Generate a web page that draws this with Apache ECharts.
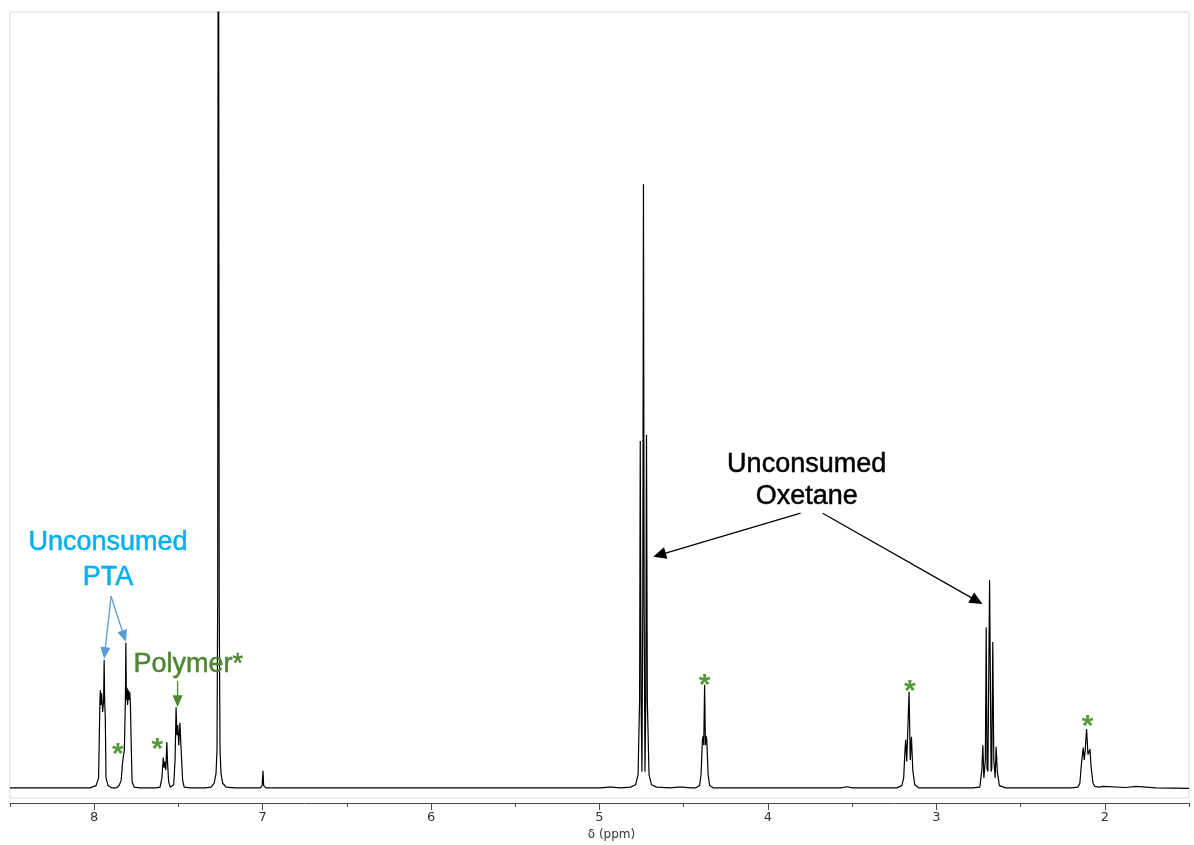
<!DOCTYPE html>
<html>
<head>
<meta charset="utf-8">
<script src="https://cdn.jsdelivr.net/npm/echarts@6/dist/echarts.min.js"></script>
<style>
  html, body { margin: 0; padding: 0; background: #ffffff; }
  #chart { width: 1194px; height: 845px; }
</style>
</head>
<body>
<div id="chart"></div>
<script>
// 1H NMR trace: [chemical shift (ppm), intensity (arbitrary units, baseline = 0)]

// Terephthalic acid doublets near 7.95 / 7.81 ppm
const ptaAromatic = [
  [8.5, 0], [8.025, 0], [7.989, 0.3], [7.974, 1.3], [7.966, 11.3], [7.963, 12.6],
  [7.960, 10.7], [7.956, 12.2], [7.950, 9.8], [7.944, 11.3], [7.941, 16.5],
  [7.938, 11.3], [7.934, 8.8], [7.930, 1.3], [7.918, 0.3], [7.894, 0],
  [7.870, 0], [7.852, 0.3], [7.840, 1.0], [7.831, 3.4], [7.827, 4.0], [7.821, 4.9],
  [7.815, 11.3], [7.812, 18.7], [7.809, 11.3], [7.805, 12.9], [7.802, 10.7],
  [7.798, 12.6], [7.793, 11.3], [7.789, 12.4], [7.785, 10.7], [7.781, 6.2],
  [7.775, 0.8], [7.763, 0.1], [7.728, 0]
];

// Polymer aromatic signals near 7.58 / 7.50 ppm
const polymerAromatic = [
  [7.632, 0], [7.609, 0.1], [7.598, 1.3], [7.590, 3.9], [7.585, 2.6], [7.580, 3.4],
  [7.575, 2.3], [7.569, 5.9], [7.564, 3.0], [7.558, 0.8], [7.549, 0.1],
  [7.543, 0], [7.528, 0.4], [7.520, 3.6], [7.514, 10.4], [7.509, 6.8], [7.504, 8.1],
  [7.498, 5.5], [7.491, 8.4], [7.484, 4.9], [7.475, 1.0], [7.466, 0.1], [7.430, 0]
];

// CDCl3 residual peak (runs off scale) and its small neighbour at 7.00 ppm
const solvent = [
  [7.341, 0], [7.306, 0.1], [7.288, 0.6], [7.277, 1.8], [7.271, 4.9], [7.267, 24.2],
  [7.263, 160], [7.258, 24.2], [7.253, 4.9], [7.247, 1.8], [7.237, 0.6],
  [7.217, 0.1], [7.163, 0],
  [7.014, 0], [7.003, 0.3], [6.998, 2.2], [6.994, 0.3], [6.979, 0]
];

// Oxetane ring CH2O triplet near 4.74 ppm
const oxetaneRing = [
  [4.994, 0], [4.941, 0.1], [4.932, 0.3], [4.927, 0.1], [4.923, 0.3], [4.917, 0.1],
  [4.875, 0], [4.816, 0.1], [4.786, 0.4], [4.771, 1.7], [4.762, 11.3], [4.758, 44.7],
  [4.753, 11.3], [4.748, 2.1], [4.743, 24.2], [4.739, 77.8], [4.735, 24.2],
  [4.730, 2.1], [4.725, 11.3], [4.721, 45.5], [4.716, 11.3], [4.706, 1.7],
  [4.691, 0.4], [4.661, 0.1], [4.578, 0], [4.536, 0.1], [4.528, 0.3], [4.522, 0.1],
  [4.516, 0.3], [4.507, 0.1], [4.459, 0]
];

// Polymer aliphatic signals near 4.38 and 3.17 ppm
const polymerAliphatic = [
  [4.430, 0], [4.406, 0.3], [4.397, 1.7], [4.389, 6.2], [4.384, 6.7], [4.381, 5.5],
  [4.376, 13.3], [4.371, 5.5], [4.368, 6.7], [4.363, 6.2], [4.355, 1.7],
  [4.346, 0.3], [4.322, 0],
  [3.568, 0], [3.532, 0.15], [3.497, 0],
  [3.235, 0], [3.205, 0.3], [3.194, 1.3], [3.186, 4.9], [3.182, 6.2], [3.176, 3.4],
  [3.162, 12.4], [3.155, 3.6], [3.148, 6.6], [3.140, 2.3], [3.128, 0.4], [3.104, 0]
];

// Oxetane ring CH2 quintet near 2.68 ppm
const oxetaneCH2 = [
  [2.783, 0], [2.742, 0.1], [2.730, 2.3], [2.724, 5.5], [2.718, 1.3], [2.709, 3.6],
  [2.704, 20.7], [2.699, 2.5], [2.694, 2.1], [2.684, 26.8], [2.675, 2.1],
  [2.671, 2.5], [2.665, 18.8], [2.659, 3.6], [2.651, 1.3], [2.645, 5.3],
  [2.638, 2.1], [2.626, 0.3], [2.587, 0]
];

// Polymer signal near 2.10 ppm and the baseline to the upfield end
const polymerUpfield = [
  [2.201, 0], [2.160, 0.1], [2.148, 0.6], [2.139, 3.0], [2.128, 5.2], [2.122, 3.6],
  [2.117, 4.6], [2.108, 7.6], [2.100, 4.3], [2.094, 4.6], [2.088, 5.0], [2.081, 2.6],
  [2.070, 0.6], [2.059, 0.2], [2.035, 0.1], [2.011, 0.2], [2.005, 0.05],
  [1.874, 0.05], [1.815, 0.2], [1.756, 0.1], [1.696, 0], [1.5, -0.05]
];

// Axis ticks (ppm)
const majorTicks = [8, 7, 6, 5, 4, 3, 2];
const minorTicks = [8.5, 7.5, 6.5, 5.5, 4.5, 3.5, 2.5, 1.5];

// Annotation anchors in [ppm, intensity]
const ptaLabel = { text: 'Unconsumed\nPTA', at: [7.918, 29.4] };
const ptaArrows = [
  { from: [7.900, 24.7], to: [7.941, 16.6] },
  { from: [7.900, 24.7], to: [7.812, 18.8] }
];
const polymerLabel = { text: 'Polymer*', at: [7.442, 15.9] };
const polymerArrows = [
  { from: [7.505, 13.8], to: [7.505, 10.4] }
];
const oxetaneLabel = { text: 'Unconsumed\nOxetane', at: [3.770, 39.6] };
const oxetaneArrows = [
  { from: [3.806, 35.4], to: [4.681, 29.8] },
  { from: [3.675, 35.4], to: [2.726, 23.7] }
];
const polymerStars = [
  [7.860, 5.3], [7.625, 6.0], [4.376, 14.2], [3.158, 13.4], [2.102, 8.9]
];

const spectrum = [].concat(
  ptaAromatic, polymerAromatic, solvent, oxetaneRing,
  polymerAliphatic, oxetaneCH2, polymerUpfield
);

const SANS = "'Liberation Sans', Arial, sans-serif";
const TICK_FONT = "'DejaVu Sans', Verdana, sans-serif";
const AXIS_COLOR = '#4a4a4a';

const BLUE_TEXT = '#00b0f0';
const BLUE_ARROW = '#5b9bd5';
const GREEN = '#4f8533';
const STAR_GREEN = '#559a3c';

// Straight arrows with a filled triangular head; the tip sits exactly on "to"
function arrowSeries(arrows, color, headLen, headWidth, lineWidth) {
  return {
    type: 'custom',
    silent: true,
    clip: false,
    z: 4,
    data: arrows.map(a => [a.from[0], a.from[1], a.to[0], a.to[1]]),
    encode: { x: [0, 2], y: [1, 3] },
    renderItem: function (params, api) {
      const p1 = api.coord([api.value(0), api.value(1)]);
      const p2 = api.coord([api.value(2), api.value(3)]);
      const dx = p2[0] - p1[0];
      const dy = p2[1] - p1[1];
      const len = Math.sqrt(dx * dx + dy * dy) || 1;
      const ux = dx / len;
      const uy = dy / len;
      const bx = p2[0] - ux * headLen;
      const by = p2[1] - uy * headLen;
      const hw = headWidth / 2;
      return {
        type: 'group',
        children: [
          {
            type: 'line',
            shape: { x1: p1[0], y1: p1[1], x2: bx + ux, y2: by + uy },
            style: { stroke: color, lineWidth: lineWidth }
          },
          {
            type: 'polygon',
            shape: { points: [[p2[0], p2[1]], [bx - uy * hw, by + ux * hw], [bx + uy * hw, by - ux * hw]] },
            style: { fill: color }
          }
        ]
      };
    }
  };
}

function textSeries(lbl, color, lineHeight) {
  return {
    type: 'scatter',
    silent: true,
    symbolSize: 1,
    itemStyle: { color: 'rgba(255,255,255,0)' },
    data: [{ name: lbl.text, value: lbl.at }],
    label: {
      show: true,
      position: 'inside',
      formatter: p => p.name,
      color: color,
      opacity: 1,
      textBorderColor: color,
      textBorderWidth: 0.5,
      fontFamily: SANS,
      fontSize: 27,
      lineHeight: lineHeight,
      align: 'center'
    },
    z: 5
  };
}

const chart = echarts.init(document.getElementById('chart'), null, { renderer: 'canvas' });

chart.setOption({
  animation: false,
  backgroundColor: '#ffffff',
  grid: {
    left: 10, right: 5, top: 12, bottom: 47,
    show: true, borderColor: '#d9d9d9', borderWidth: 1,
    containLabel: false, outerBoundsMode: 'none'
  },
  xAxis: [
    {
      type: 'value', min: 1.5, max: 8.5, inverse: true,
      position: 'bottom', offset: 5,
      axisLine: { show: true, onZero: false, lineStyle: { color: AXIS_COLOR, width: 1 } },
      axisTick: { show: true, length: 7, customValues: majorTicks, lineStyle: { color: AXIS_COLOR } },
      axisLabel: { customValues: majorTicks, color: '#333', fontSize: 13, fontFamily: TICK_FONT, margin: 8 },
      splitLine: { show: false },
      name: 'δ (ppm)', nameLocation: 'middle', nameGap: 26,
      nameTextStyle: { color: '#333', fontSize: 12, fontFamily: TICK_FONT, padding: [0, 0, 0, 24] }
    },
    {
      type: 'value', min: 1.5, max: 8.5, inverse: true,
      position: 'bottom', offset: 5,
      axisLine: { show: false, onZero: false },
      axisTick: { show: true, length: 4, customValues: minorTicks, lineStyle: { color: AXIS_COLOR } },
      axisLabel: { show: false },
      splitLine: { show: false }
    }
  ],
  yAxis: { type: 'value', min: -1.3, max: 100, show: false },
  series: [
    {
      name: 'spectrum',
      type: 'line',
      data: spectrum,
      xAxisIndex: 0,
      showSymbol: false,
      symbol: 'none',
      silent: true,
      clip: true,
      lineStyle: { color: '#000000', width: 1.2 },
      z: 3
    },
    arrowSeries(ptaArrows, BLUE_ARROW, 12, 10, 1.3),
    arrowSeries(polymerArrows, GREEN, 12, 10, 1.3),
    arrowSeries(oxetaneArrows, '#000000', 13, 12, 1.3),
    textSeries(ptaLabel, BLUE_TEXT, 35),
    textSeries(polymerLabel, GREEN, 30),
    textSeries(oxetaneLabel, '#000000', 32),
    {
      type: 'scatter',
      silent: true,
      symbolSize: 1,
      itemStyle: { color: 'rgba(255,255,255,0)' },
      data: polymerStars,
      label: {
        show: true,
        position: 'inside',
        formatter: '*',
        color: STAR_GREEN,
        opacity: 1,
        fontFamily: SANS,
        fontWeight: 'bold',
        fontSize: 30,
        offset: [0, 8]
      },
      z: 5
    }
  ]
});
</script>
</body>
</html>
